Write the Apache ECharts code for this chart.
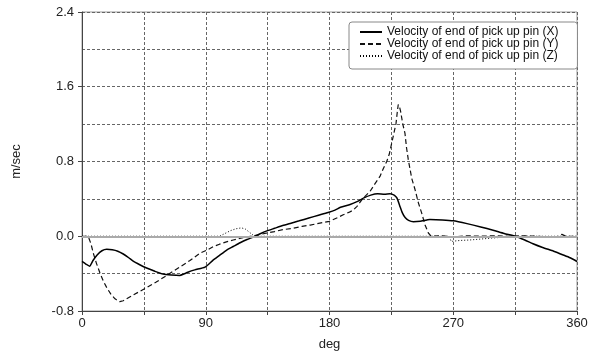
<!DOCTYPE html>
<html>
<head>
<meta charset="utf-8">
<script src="https://cdn.jsdelivr.net/npm/echarts@6/dist/echarts.min.js"></script>
<style>
  html, body { margin: 0; padding: 0; background: #fff; }
  #chart { width: 599px; height: 354px; }
</style>
</head>
<body>
<div id="chart"></div>
<script>
// velocity (X) - solid
const xDeg = [0, 3, 5.5, 8, 11, 14.5, 18, 22, 26, 30, 34, 37.5, 42, 47, 53, 59, 65, 71, 74, 77, 82, 89.5,
  95, 100, 105, 110, 115, 120, 125, 130, 135, 140, 146, 152, 158, 165, 172, 179, 184, 188, 195, 200, 205,
  210, 215, 220, 224, 227, 229, 231, 233, 235, 237.5, 241, 246, 253, 262, 270, 280, 290, 299, 307, 315,
  322, 328, 335, 343, 350, 355, 360];
const xVel = [-0.27, -0.30, -0.32, -0.26, -0.20, -0.155, -0.14, -0.145, -0.16, -0.19, -0.23, -0.27, -0.305,
  -0.34, -0.375, -0.405, -0.415, -0.42, -0.405, -0.385, -0.36, -0.33,
  -0.26, -0.205, -0.15, -0.11, -0.07, -0.035, -0.005, 0.03, 0.06, 0.085, 0.115, 0.14, 0.165, 0.195, 0.225,
  0.255, 0.28, 0.31, 0.34, 0.37, 0.41, 0.44, 0.455, 0.45, 0.455, 0.44, 0.41, 0.33, 0.25, 0.20, 0.17, 0.155,
  0.16, 0.18, 0.175, 0.165, 0.135, 0.10, 0.065, 0.03, 0.0, -0.04, -0.08, -0.12, -0.16, -0.20, -0.23, -0.27];

// velocity (Y) - dashed
const yDeg = [0, 4.5, 6.5, 8.2, 10.5, 13, 15.5, 18, 21, 24, 27.5, 30, 36, 42, 47, 54, 61.6, 70, 78.5, 86,
  90.7, 95.5, 100, 105, 110, 117, 125, 133, 140, 146, 153, 160, 166, 173, 180, 186, 190, 194, 197.3, 200,
  203.5, 206, 209.5, 213, 216.7, 219, 221.6, 223.5, 225, 226.5, 228.4, 229.3, 230, 231, 231.8, 233.3,
  234.9, 236, 237.3, 239.8, 242.2, 244.6, 247, 249.5, 251.9, 254, 262, 270, 280, 290, 300, 310, 320, 330,
  340, 345, 349, 352, 360];
const yVel = [0.0, 0.0, -0.08, -0.18, -0.29, -0.39, -0.48, -0.55, -0.62, -0.67, -0.70, -0.69, -0.64, -0.59,
  -0.55, -0.49, -0.42, -0.34, -0.26, -0.18, -0.15, -0.11, -0.085, -0.06, -0.04, -0.015, 0.005, 0.03, 0.05,
  0.07, 0.085, 0.105, 0.12, 0.14, 0.16, 0.2, 0.23, 0.255, 0.28, 0.32, 0.39, 0.43, 0.48, 0.56, 0.64, 0.72,
  0.80, 0.88, 0.98, 1.08, 1.21, 1.33, 1.41, 1.38, 1.33, 1.2, 1.1, 0.95, 0.82, 0.62, 0.50, 0.36, 0.25, 0.12,
  0.035, 0.0, 0.005, -0.01, 0.005, 0.0, 0.005, 0.0, 0.005, 0.0, -0.005, -0.01, 0.02, 0.0, 0.0];

// velocity (Z) - dotted
const zDeg = [0, 100, 104, 108, 112, 116, 119, 122, 125, 130, 267, 268.5, 275, 282, 290, 298, 306, 315, 360];
const zVel = [0, 0, 0.03, 0.06, 0.08, 0.09, 0.075, 0.04, 0.005, 0, 0, -0.055, -0.045, -0.04, -0.03, -0.02,
  -0.01, 0.0, 0];

const seriesNames = [
  'Velocity of end of pick up pin (X)',
  'Velocity of end of pick up pin (Y)',
  'Velocity of end of pick up pin (Z)'
];

const zip = (a, b) => a.map((v, i) => [v, b[i]]);

const font = '"Liberation Sans", Arial, sans-serif';
const gridDash = { color: '#666', width: 1, type: [3, 2] };

var myChart = echarts.init(document.getElementById('chart'));
myChart.setOption({
  animation: false,
  textStyle: { fontFamily: font },
  grid: {
    left: 82, right: 22, top: 12, bottom: 43,
    outerBoundsMode: 'none',
    show: true, borderColor: '#999', borderWidth: 1
  },
  legend: {
    orient: 'vertical',
    left: 349, top: 22,
    padding: [4, 19, 7, 10],
    itemGap: 0,
    itemWidth: 22,
    itemHeight: 10,
    backgroundColor: '#fff',
    borderColor: '#888',
    borderWidth: 1,
    borderRadius: 3,
    itemStyle: { opacity: 0, borderWidth: 0 },
    textStyle: { fontSize: 12, color: '#111', lineHeight: 12, fontFamily: font },
    data: seriesNames
  },
  xAxis: {
    type: 'value',
    min: 0, max: 360, interval: 90,
    name: 'deg', nameLocation: 'middle', nameGap: 27,
    nameTextStyle: { fontSize: 13, color: '#222' },
    axisLine: { onZero: false, lineStyle: { color: '#444' } },
    axisTick: { length: 4, lineStyle: { color: '#444' } },
    minorTick: { show: true, splitNumber: 2, length: 4, lineStyle: { color: '#444' } },
    axisLabel: { fontSize: 13, color: '#222', margin: 6 },
    splitLine: { show: true, lineStyle: gridDash },
    minorSplitLine: { show: true, lineStyle: gridDash }
  },
  yAxis: {
    type: 'value',
    min: -0.8, max: 2.4, interval: 0.8,
    name: 'm/sec', nameLocation: 'middle', nameGap: 59,
    nameTextStyle: { fontSize: 13, color: '#222' },
    axisLine: { show: true, lineStyle: { color: '#444' } },
    axisTick: { show: true, length: 4, lineStyle: { color: '#444' } },
    minorTick: { show: false, splitNumber: 2 },
    axisLabel: { fontSize: 13, color: '#222', margin: 8, formatter: v => v.toFixed(1) },
    splitLine: { show: true, lineStyle: gridDash },
    minorSplitLine: { show: true, lineStyle: gridDash }
  },
  series: [
    {
      // zero reference line
      type: 'line', data: [], silent: true,
      markLine: {
        silent: true, symbol: 'none', label: { show: false },
        lineStyle: { color: '#aaa', width: 2, type: 'solid' },
        data: [{ yAxis: 0 }]
      }
    },
    {
      name: seriesNames[2], type: 'line', symbol: 'none',
      data: zip(zDeg, zVel),
      lineStyle: { color: '#000', width: 1, type: [1, 2] },
      itemStyle: { color: '#000' }
    },
    {
      name: seriesNames[1], type: 'line', symbol: 'none',
      data: zip(yDeg, yVel),
      lineStyle: { color: '#111', width: 1.2, type: [5, 3] },
      itemStyle: { color: '#111' }
    },
    {
      name: seriesNames[0], type: 'line', symbol: 'none', smooth: 0.2,
      data: zip(xDeg, xVel),
      lineStyle: { color: '#000', width: 1.5 },
      itemStyle: { color: '#000' }
    }
  ]
});
</script>
</body>
</html>
